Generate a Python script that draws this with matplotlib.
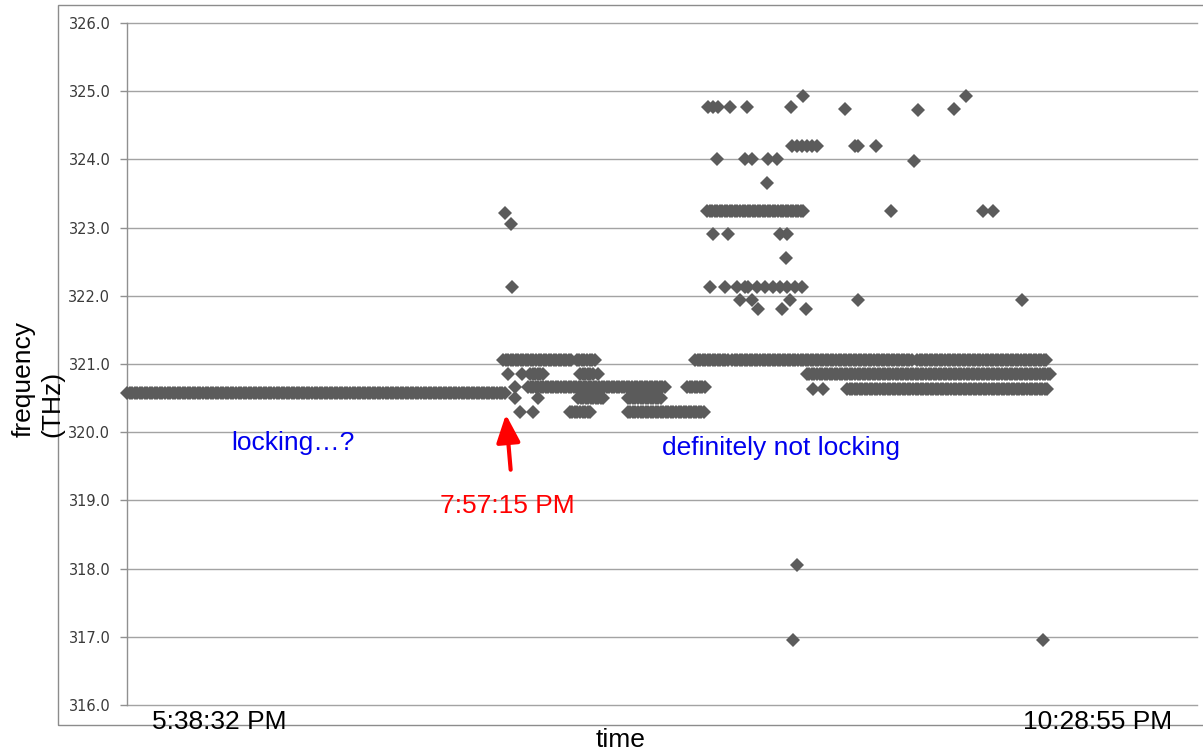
import numpy as np
import matplotlib
matplotlib.use("Agg")
import matplotlib.pyplot as plt
from matplotlib.patches import Rectangle

# ---- data (x in minutes since 5:38:32 PM, y in THz) ----
# dense runs of samples: start, end, frequency
run_start = [0.0, 118.7, 142.0, 179.3, 191.0, 249.4, 127.2, 143.0, 214.6,
             176.8, 126.6, 227.3, 142.4, 158.1, 139.8, 158.1, 183.1]
run_end = [119.3, 140.5, 147.7, 190.0, 248.1, 290.4, 131.9, 147.1, 292.0,
           183.1, 169.8, 290.7, 150.9, 168.9, 146.8, 182.4, 214.0]
run_freq = [320.58, 321.06, 321.06, 321.06, 321.06, 321.06, 320.85, 320.85, 320.85,
            320.67, 320.67, 320.63, 320.50, 320.50, 320.30, 320.30, 323.25]
sample_step = 0.8  # minutes between samples in a dense run

# isolated samples
pt_time = [119.3, 121.2, 121.5,
           120.3, 124.7, 148.7, 122.5, 122.5, 129.7, 124.1, 128.2, 216.5, 219.7,
           183.4, 185.0, 186.6, 190.3, 195.7, 209.6,
           226.6, 249.7, 261.0,
           213.4, 264.8,
           210.0, 211.5, 213.0, 214.6, 216.2, 217.8, 229.8, 230.7, 236.4,
           186.2, 195.1, 197.3, 202.3, 205.2, 248.4,
           202.0,
           241.2, 270.2, 273.4,
           185.0, 189.7, 206.1, 208.3,
           208.0,
           184.0, 188.8, 192.5, 195.1, 196.0, 198.9, 201.4, 203.9, 206.1, 208.3, 210.9, 213.1,
           193.5, 197.3, 209.3, 230.7, 282.5,
           199.2, 206.8, 214.3,
           211.5,
           210.2, 289.1]
pt_freq = [323.22, 323.06, 322.13,
           320.85, 320.85, 320.85, 320.67, 320.50, 320.50, 320.30, 320.30, 320.63, 320.63,
           324.77, 324.77, 324.77, 324.77, 324.77, 324.77,
           324.74, 324.72, 324.74,
           324.93, 324.93,
           324.19, 324.19, 324.19, 324.19, 324.19, 324.19, 324.19, 324.19, 324.19,
           324.00, 324.00, 324.00, 324.00, 324.00, 323.98,
           323.66,
           323.25, 323.25, 323.25,
           322.90, 322.90, 322.90, 322.90,
           322.56,
           322.13, 322.13, 322.13, 322.13, 322.13, 322.13, 322.13, 322.13, 322.13, 322.13, 322.13, 322.13,
           321.94, 321.94, 321.94, 321.94, 321.94,
           321.80, 321.80, 321.80,
           318.05,
           316.95, 316.95]

y_ticks = [316, 317, 318, 319, 320, 321, 322, 323, 324, 325, 326]
time_labels = ["5:38:32 PM", "10:28:55 PM"]
x_axis_title = "time"
y_axis_title = "frequency\n(THz)"
note_left = "locking\u2026?"
note_right = "definitely not locking"
event_label = "7:57:15 PM"
event_time = 119.6

# ---- figure ----
W, H = 1203, 752
fig = plt.figure(figsize=(W / 100, H / 100), dpi=100)
fig.patch.set_facecolor("white")
ax = fig.add_axes([127 / W, 1 - 705 / H, (1197 - 127) / W, (705 - 23) / H])

marker_color = "#5b5b5b"
ms = 7.2
for s, e, f in zip(run_start, run_end, run_freq):
    xs = np.arange(s, e + 1e-9, sample_step)
    ax.plot(xs, np.full_like(xs, f), linestyle="none", marker="D", ms=ms,
            color=marker_color, mec=marker_color, mew=0, clip_on=False, zorder=3)
ax.plot(pt_time, pt_freq, linestyle="none", marker="D", ms=ms,
        color=marker_color, mec=marker_color, mew=0, clip_on=False, zorder=3)

ax.set_xlim(0, (1197 - 127) / 3.168)
ax.set_ylim(316, 326)
ax.set_yticks(y_ticks)
ax.set_yticklabels([f"{v:.1f}" for v in y_ticks], fontsize=10.5,
                   color="#3a3a3a", family="DejaVu Sans")
ax.set_xticks([])
ax.tick_params(axis="y", length=5, width=1, color="#909090", pad=7)
ax.grid(axis="y", color="#a3a3a3", linewidth=1.0)
for gl in ax.get_ygridlines():
    gl.set_clip_on(False)
ax.set_axisbelow(True)
for sp in ("top", "right", "bottom"):
    ax.spines[sp].set_visible(False)
ax.spines["left"].set_color("#909090")
ax.spines["left"].set_linewidth(1.0)

# outer chart frame
fig.add_artist(Rectangle((58.5 / W, 1 - 725 / H), (1215 - 58.5) / W, (725 - 4.5) / H,
                         transform=fig.transFigure, fill=False,
                         edgecolor="#8c8c8c", linewidth=1.0, zorder=0))

txt = dict(family=["Liberation Sans", "DejaVu Sans"], fontsize=19)
# time labels at both ends of the axis
fig.text(219 / W, 1 - 729 / H, time_labels[0], ha="center", va="baseline", color="black", **txt)
fig.text(1098 / W, 1 - 729 / H, time_labels[1], ha="center", va="baseline", color="black", **txt)
fig.text(621 / W, 1 - 747 / H, x_axis_title, ha="center", va="baseline", color="black", **txt)
fig.text(38 / W, 1 - 379 / H, y_axis_title, rotation=90, ha="center", va="center",
         multialignment="left", color="black", linespacing=1.2, **txt)

# annotations
ax.text(52.5, 319.74, note_left, ha="center", va="baseline", color="#0000ee", **txt)
ax.text(206.4, 319.66, note_right, ha="center", va="baseline", color="#0000ee", **txt)
ax.annotate("", xy=(event_time, 320.26), xytext=(121.1, 319.45),
            arrowprops=dict(arrowstyle="-|>,head_length=0.7,head_width=0.3",
                            mutation_scale=24, color="red", lw=3, shrinkA=0, shrinkB=0))
ax.text(120.1, 318.81, event_label, ha="center", va="baseline", color="red", **txt)

fig.savefig("out.png", dpi=100)
